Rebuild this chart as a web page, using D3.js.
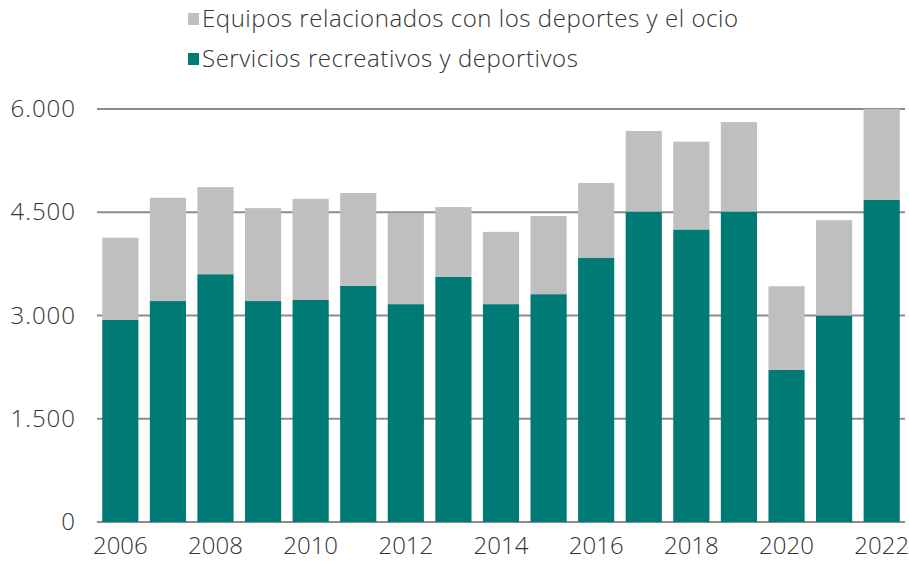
<!DOCTYPE html>
<html>
<head>
<meta charset="utf-8">
<script src="https://cdn.jsdelivr.net/npm/d3@7"></script>
<style>
  body { margin: 0; background: #fff; }
  text { font-family: "Open Sans", Lato, sans-serif; font-weight: 300; fill: #333; }
</style>
</head>
<body>
<div id="chart"></div>
<script>
const WIDTH = 909;
const HEIGHT = 561;
const MARGIN = { left: 97, right: 4, top: 109, bottom: 39 };
const FONT = "'Open Sans', Lato, sans-serif";

// data
const years = ["2006", "2007", "2008", "2009", "2010", "2011", "2012", "2013", "2014",
  "2015", "2016", "2017", "2018", "2019", "2020", "2021", "2022"];
const servicios = [2940, 3210, 3600, 3210, 3225, 3430, 3165, 3560, 3165,
  3310, 3835, 4510, 4250, 4510, 2210, 3000, 4680];
const equipos = [1190, 1500, 1265, 1350, 1470, 1350, 1325, 1015, 1050,
  1135, 1090, 1170, 1275, 1300, 1215, 1385, 1320];
const yTicks = [0, 1500, 3000, 4500, 6000];
const xLabels = ["2006", "2008", "2010", "2012", "2014", "2016", "2018", "2020", "2022"];
const seriesNames = ["Equipos relacionados con los deportes y el ocio", "Servicios recreativos y deportivos"];
const COLORS = { servicios: "#007a74", equipos: "#bfbfbf" };

const svg = d3.select("#chart").append("svg")
  .attr("width", WIDTH)
  .attr("height", HEIGHT);

const x = d3.scaleBand()
  .domain(years)
  .range([MARGIN.left, WIDTH - MARGIN.right])
  .paddingInner(0.24)
  .paddingOuter(0.11);

const y = d3.scaleLinear()
  .domain([0, 6000])
  .range([HEIGHT - MARGIN.bottom, MARGIN.top]);

const fmt = v => d3.format(",")(v).replace(/,/g, ".");

// gridlines
svg.append("g")
  .selectAll("line")
  .data(yTicks)
  .join("line")
  .attr("x1", MARGIN.left)
  .attr("x2", WIDTH - MARGIN.right)
  .attr("y1", d => y(d))
  .attr("y2", d => y(d))
  .attr("stroke", "#8c8c8c")
  .attr("stroke-width", 2);

// y axis labels
const yAxis = d3.axisLeft(y).tickValues(yTicks).tickFormat(fmt).tickSize(0).tickPadding(21);
svg.append("g")
  .attr("transform", `translate(${MARGIN.left},0)`)
  .call(yAxis)
  .call(g => g.select(".domain").remove())
  .selectAll("text")
  .attr("font-size", 24)
  .attr("font-family", FONT)
  .attr("font-weight", 300)
  .attr("letter-spacing", 1)
  .attr("fill", "#333");

const rows = years.map((yr, i) => ({ year: yr, s: servicios[i], e: equipos[i] }));

// stacked bars
svg.append("g")
  .selectAll("rect.serv")
  .data(rows)
  .join("rect")
  .attr("class", "serv")
  .attr("x", d => x(d.year))
  .attr("width", x.bandwidth())
  .attr("y", d => y(d.s))
  .attr("height", d => y(0) - y(d.s))
  .attr("fill", COLORS.servicios);

svg.append("g")
  .selectAll("rect.equip")
  .data(rows)
  .join("rect")
  .attr("class", "equip")
  .attr("x", d => x(d.year))
  .attr("width", x.bandwidth())
  .attr("y", d => y(d.s + d.e))
  .attr("height", d => y(d.s) - y(d.s + d.e))
  .attr("fill", COLORS.equipos);

// x axis labels
const xAxis = d3.axisBottom(x).tickValues(xLabels).tickSize(0).tickPadding(15);
svg.append("g")
  .attr("transform", `translate(0,${y(0)})`)
  .call(xAxis)
  .call(g => g.select(".domain").remove())
  .selectAll("text")
  .attr("font-size", 24)
  .attr("font-family", FONT)
  .attr("font-weight", 300)
  .attr("fill", "#333");

// legend
const legend = svg.append("g").attr("transform", "translate(188,0)");
const legendItems = [
  { name: seriesNames[0], color: COLORS.equipos, y: 19 },
  { name: seriesNames[1], color: COLORS.servicios, y: 59 }
];
legend.selectAll("rect")
  .data(legendItems)
  .join("rect")
  .attr("x", 0)
  .attr("y", d => d.y - 6)
  .attr("width", 11)
  .attr("height", 12)
  .attr("fill", d => d.color);
legend.selectAll("text")
  .data(legendItems)
  .join("text")
  .attr("x", 14)
  .attr("y", d => d.y)
  .attr("dy", "0.35em")
  .attr("font-size", 24)
  .attr("letter-spacing", 0.55)
  .text(d => d.name);
</script>
</body>
</html>
